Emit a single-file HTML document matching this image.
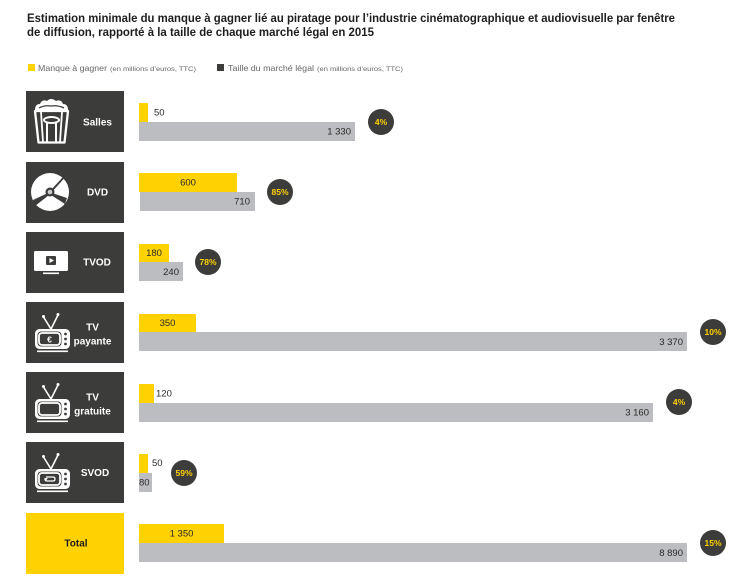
<!DOCTYPE html>
<html><head><meta charset="utf-8"><style>
html,body{margin:0;padding:0;background:#fff;}
svg{display:block;}
text{font-family:"Liberation Sans",sans-serif;}
</style></head><body>
<svg width="756" height="577" viewBox="0 0 756 577" xmlns="http://www.w3.org/2000/svg">
<defs>
<g id="tv">
  <line x1="51" y1="27" x2="43.5" y2="15" stroke="#fff" stroke-width="1.6"/>
  <line x1="51" y1="27" x2="58" y2="13" stroke="#fff" stroke-width="1.6"/>
  <circle cx="43.5" cy="14.5" r="1.5" fill="#fff"/>
  <circle cx="58" cy="12.5" r="1.5" fill="#fff"/>
  <rect x="35" y="27" width="35" height="20" rx="4.5" fill="#fff"/>
  <rect x="37.5" y="29.5" width="24" height="15" rx="3.5" fill="#3c3c3b"/>
  <rect x="39" y="31" width="21" height="12" rx="3" fill="none" stroke="#fff" stroke-width="1.8"/>
  <circle cx="65.5" cy="32" r="1.4" fill="#3c3c3b"/>
  <circle cx="65.5" cy="37" r="1.4" fill="#3c3c3b"/>
  <circle cx="65.5" cy="42" r="1.4" fill="#3c3c3b"/>
  <rect x="37" y="48.5" width="31" height="1.6" fill="#fff"/>
</g>
</defs>

<!-- Title -->
<text x="27" y="22" font-size="12" font-weight="bold" fill="#1e1e1e" textLength="648" lengthAdjust="spacingAndGlyphs">Estimation minimale du manque à gagner lié au piratage pour l’industrie cinématographique et audiovisuelle par fenêtre</text>
<text x="27" y="36" font-size="12" font-weight="bold" fill="#1e1e1e" textLength="347" lengthAdjust="spacingAndGlyphs">de diffusion, rapporté à la taille de chaque marché légal en 2015</text>

<!-- Legend -->
<rect x="28" y="64" width="7" height="7" fill="#FFD200"/>
<text x="38" y="71" font-size="8.5" fill="#666" textLength="69" lengthAdjust="spacingAndGlyphs">Manque à gagner</text>
<text x="110" y="71" font-size="6.5" fill="#666" textLength="86" lengthAdjust="spacingAndGlyphs">(en millions d’euros, TTC)</text>
<rect x="217" y="64" width="7" height="7" fill="#3c3c3b"/>
<text x="228" y="71" font-size="8.5" fill="#666" textLength="86" lengthAdjust="spacingAndGlyphs">Taille du marché légal</text>
<text x="317" y="71" font-size="6.5" fill="#666" textLength="86" lengthAdjust="spacingAndGlyphs">(en millions d’euros, TTC)</text>

<!-- Boxes -->
<rect x="26" y="91" width="98" height="61" fill="#3c3c3b"/>
<rect x="26" y="162" width="98" height="61" fill="#3c3c3b"/>
<rect x="26" y="232" width="98" height="61" fill="#3c3c3b"/>
<rect x="26" y="302" width="98" height="61" fill="#3c3c3b"/>
<rect x="26" y="372" width="98" height="61" fill="#3c3c3b"/>
<rect x="26" y="442" width="98" height="61" fill="#3c3c3b"/>
<rect x="26" y="513" width="98" height="61" fill="#FFD200"/>

<!-- Popcorn icon -->
<path d="M35,110 Q35,104 40,104 Q42,99 47,101 Q51,97 56,101 Q61,99 63,104 Q68,104 68,110 Z" fill="#fff"/>
<path d="M39,108 Q44,105 51,106 Q58,105 64,108" fill="none" stroke="#3c3c3b" stroke-width="1.3"/>
<path d="M35,111 L68,111 L64.5,142.5 L38.5,142.5 Z" fill="none" stroke="#fff" stroke-width="2.3" stroke-linejoin="round"/>
<line x1="41" y1="112" x2="43" y2="142" stroke="#fff" stroke-width="1.8"/>
<line x1="62" y1="112" x2="60" y2="142" stroke="#fff" stroke-width="1.8"/>
<ellipse cx="51.5" cy="120" rx="7.5" ry="3" fill="none" stroke="#fff" stroke-width="2"/>
<line x1="47" y1="123" x2="47" y2="142" stroke="#fff" stroke-width="2"/>
<line x1="56" y1="123" x2="56" y2="142" stroke="#fff" stroke-width="2"/>

<!-- DVD icon -->
<circle cx="50" cy="192" r="19" fill="#fff"/>
<polygon points="50,191 63,177 64,178.5 51,193" fill="#3c3c3b"/>
<polygon points="48,193 33,200 35,206 49,195" fill="#3c3c3b"/>
<polygon points="52,193 67,198 65,204 51,195" fill="#3c3c3b"/>
<circle cx="50" cy="192" r="4.5" fill="#3c3c3b"/>
<circle cx="50" cy="192" r="2.3" fill="#ccc"/>

<!-- TVOD icon -->
<rect x="34" y="251" width="34" height="20" rx="1.5" fill="#fff"/>
<rect x="43" y="272.5" width="16" height="1.6" fill="#fff"/>
<rect x="46" y="256" width="10" height="9" rx="1" fill="#3c3c3b"/>
<polygon points="49.5,258 49.5,263 54,260.5" fill="#fff"/>

<!-- TV icons -->
<g transform="translate(0,302)"><use href="#tv"/>
<text x="49.5" y="40.5" font-size="8.5" font-weight="bold" fill="#fff" text-anchor="middle">€</text></g>
<g transform="translate(0,372)"><use href="#tv"/></g>
<g transform="translate(0,442)"><use href="#tv"/>
<path d="M46,35 L53,35 Q55,35 55,37 Q55,39 53,39 L47,39 Q45,39 45,37" fill="none" stroke="#fff" stroke-width="1.3"/>
<polygon points="44,36 46,38.5 48,36" fill="#fff"/></g>

<!-- Box labels -->
<g font-size="10" font-weight="bold" fill="#fff" text-anchor="middle">
<text x="97.5" y="125.5">Salles</text>
<text x="97.5" y="195.5">DVD</text>
<text x="97" y="265.5">TVOD</text>
<text x="92.5" y="330.5">TV</text>
<text x="92.5" y="344.5">payante</text>
<text x="92.5" y="400.5">TV</text>
<text x="92.5" y="414.5">gratuite</text>
<text x="95" y="476">SVOD</text>
<text x="76" y="546.5" fill="#1e1e1e">Total</text>
</g>

<!-- Bars -->
<g fill="#FFD200">
<rect x="139" y="103" width="9" height="19"/>
<rect x="139" y="173" width="98" height="19"/>
<rect x="139" y="244" width="30" height="18"/>
<rect x="139" y="314" width="57" height="18"/>
<rect x="139" y="384" width="15" height="19"/>
<rect x="139" y="454" width="9" height="19"/>
<rect x="139" y="524" width="85" height="19"/>
</g>
<g fill="#BCBDC0">
<rect x="139" y="122" width="216" height="19"/>
<rect x="140" y="192" width="115" height="19"/>
<rect x="139" y="262" width="44" height="19"/>
<rect x="139" y="332" width="548" height="19"/>
<rect x="139" y="403" width="514" height="19"/>
<rect x="139" y="473" width="13" height="19"/>
<rect x="139" y="543" width="548" height="19"/>
</g>

<!-- Value labels -->
<g font-size="9.5" fill="#2a2a2a">
<text x="154" y="115.5">50</text>
<text x="351" y="134.5" text-anchor="end">1 330</text>
<text x="188" y="185.5" text-anchor="middle">600</text>
<text x="250" y="204.5" text-anchor="end">710</text>
<text x="154" y="256" text-anchor="middle">180</text>
<text x="179" y="275" text-anchor="end">240</text>
<text x="167.5" y="326" text-anchor="middle">350</text>
<text x="683" y="345" text-anchor="end">3 370</text>
<text x="156" y="396.5">120</text>
<text x="649" y="415.5" text-anchor="end">3 160</text>
<text x="152" y="466">50</text>
<text x="139" y="485.5">80</text>
<text x="181.5" y="536.5" text-anchor="middle">1 350</text>
<text x="683" y="556" text-anchor="end">8 890</text>
</g>

<!-- Circles -->
<g fill="#3c3c3b">
<circle cx="381" cy="122" r="13"/>
<circle cx="280" cy="192" r="13"/>
<circle cx="208" cy="262" r="13"/>
<circle cx="713" cy="332" r="13"/>
<circle cx="679" cy="402" r="13"/>
<circle cx="184" cy="473" r="13"/>
<circle cx="713" cy="543" r="13"/>
</g>
<g font-size="8.5" font-weight="bold" fill="#FFD200" text-anchor="middle">
<text x="381" y="125">4%</text>
<text x="280" y="195">85%</text>
<text x="208" y="265">78%</text>
<text x="713" y="335">10%</text>
<text x="679" y="405">4%</text>
<text x="184" y="476">59%</text>
<text x="713" y="546">15%</text>
</g>
</svg>
</body></html>
